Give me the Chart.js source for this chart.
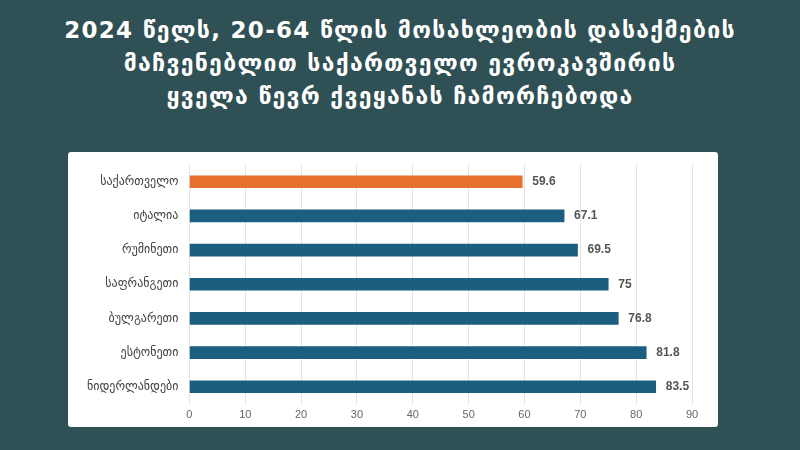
<!DOCTYPE html>
<html>
<head>
<meta charset="utf-8">
<script src="https://cdn.jsdelivr.net/npm/chart.js@4.4.1/dist/chart.umd.min.js"></script>
<style>
  html, body { margin: 0; padding: 0; }
  body {
    width: 800px; height: 450px; overflow: hidden;
    background: #2f5054;
    font-family: "DejaVu Sans", sans-serif;
    position: relative;
  }
  #title {
    position: absolute; left: 0; top: 14px; width: 800px;
    text-align: center; color: #fff;
    font-weight: bold; font-size: 23px; line-height: 33px;
    letter-spacing: 1.3px;
  }
  #card {
    position: absolute; left: 68px; top: 152px;
    width: 650px; height: 275px;
    background: #fff; border-radius: 3px;
  }
  #card canvas { display: block; }
</style>
</head>
<body>
<div id="title">
  2024 წელს, 20-64 წლის მოსახლეობის დასაქმების<br>
  მაჩვენებლით საქართველო ევროკავშირის<br>
  ყველა წევრ ქვეყანას ჩამორჩებოდა
</div>
<div id="card"><canvas id="chart" width="650" height="275"></canvas></div>
<script>
// data
const countries = ['საქართველო', 'იტალია', 'რუმინეთი', 'საფრანგეთი', 'ბულგარეთი', 'ესტონეთი', 'ნიდერლანდები'];
const employmentRate = [59.6, 67.1, 69.5, 75, 76.8, 81.8, 83.5];
const barColors = ['#e8702f', '#1b5e80', '#1b5e80', '#1b5e80', '#1b5e80', '#1b5e80', '#1b5e80'];
const xTicks = [0, 10, 20, 30, 40, 50, 60, 70, 80, 90];

// simple value labels at the end of each bar
const valueLabels = {
    id: 'valueLabels',
    afterDatasetsDraw(chart) {
        const ctx = chart.ctx;
        const meta = chart.getDatasetMeta(0);
        ctx.save();
        ctx.font = 'bold 12px "Liberation Sans", sans-serif';
        ctx.fillStyle = '#555';
        ctx.textAlign = 'left';
        ctx.textBaseline = 'middle';
        meta.data.forEach((bar, i) => {
            ctx.fillText(String(employmentRate[i]), bar.x + 10, bar.y);
        });
        ctx.restore();
    }
};

const ctx = document.getElementById('chart').getContext('2d');
const chart = new Chart(ctx, {
    type: 'bar',
    data: {
        labels: countries,
        datasets: [{
            data: employmentRate,
            backgroundColor: barColors,
            barThickness: 12
        }]
    },
    options: {
        indexAxis: 'y',
        responsive: false,
        animation: false,
        layout: { padding: { top: 12.7, right: 26, bottom: 0, left: 15 } },
        scales: {
            x: {
                min: 0,
                max: 90,
                afterBuildTicks: axis => { axis.ticks = xTicks.map(v => ({ value: v })); },
                ticks: {
                    color: '#666',
                    padding: 5,
                    font: { family: '"Liberation Sans", sans-serif', size: 11 }
                },
                grid: { color: '#e3e3e3', drawTicks: false },
                border: { display: false }
            },
            y: {
                ticks: {
                    color: '#444',
                    padding: 4,
                    font: { family: '"DejaVu Sans", sans-serif', size: 12 }
                },
                // invisible tick marks only to keep the labels off the plot
                grid: {
                    display: true,
                    drawOnChartArea: false,
                    drawTicks: true,
                    tickLength: 7,
                    color: 'rgba(0,0,0,0)'
                },
                border: { display: false }
            }
        },
        plugins: {
            legend: { display: false },
            tooltip: { enabled: false }
        }
    },
    plugins: [valueLabels]
});
</script>
</body>
</html>
